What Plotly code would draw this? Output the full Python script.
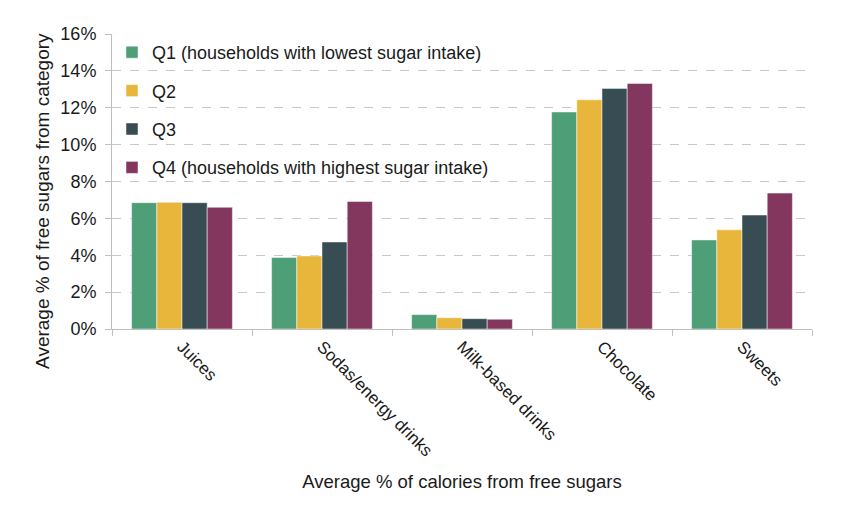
import plotly.graph_objects as go

categories = ["Juices", "Sodas/energy drinks", "Milk-based drinks", "Chocolate", "Sweets"]
series_names = [
    "Q1 (households with lowest sugar intake)",
    "Q2",
    "Q3",
    "Q4 (households with highest sugar intake)",
]
q1 = [6.85, 3.88, 0.78, 11.77, 4.83]
q2 = [6.87, 3.96, 0.61, 12.43, 5.38]
q3 = [6.85, 4.72, 0.56, 13.05, 6.18]
q4 = [6.60, 6.92, 0.53, 13.32, 7.37]
series_values = [q1, q2, q3, q4]
colors = ["#4E9E77", "#E8B63A", "#374C53", "#84375E"]
y_ticks = [0, 2, 4, 6, 8, 10, 12, 14, 16]
y_tick_labels = ["0%", "2%", "4%", "6%", "8%", "10%", "12%", "14%", "16%"]

fig = go.Figure()
for i, (name, vals, col) in enumerate(zip(series_names, series_values, colors)):
    fig.add_trace(go.Bar(
        x=categories, y=vals, name=name,
        marker=dict(color=col, line=dict(color="rgba(255,255,255,0.6)", width=0.8)),
        legendgroup=f"g{i}",
    ))

font_family = "Liberation Sans, Arial, sans-serif"
fig.update_layout(
    width=848, height=515,
    margin=dict(l=112, r=36, t=34, b=186),
    paper_bgcolor="white", plot_bgcolor="white",
    barmode="group", bargap=0.28, bargroupgap=0,
    font=dict(family=font_family, size=18, color="#1a1a1a"),
    legend=dict(
        x=0.0, y=1.0, xanchor="left", yanchor="top",
        bgcolor="rgba(0,0,0,0)", tracegroupgap=12,
        font=dict(size=18), itemwidth=30,
    ),
    xaxis=dict(
        showline=True, linecolor="#BFBFBF", linewidth=1,
        ticks="outside", tickson="boundaries", ticklen=6, tickcolor="#BFBFBF",
        tickangle=45, tickfont=dict(size=17),
        title=dict(text="Average % of calories from free sugars", font=dict(size=18.5), standoff=15),
        showgrid=False,
    ),
    yaxis=dict(
        range=[0, 16], tickvals=y_ticks, ticktext=y_tick_labels,
        showline=True, linecolor="#BFBFBF", linewidth=1,
        ticks="outside", ticklen=6, tickcolor="#BFBFBF",
        tickfont=dict(size=18), ticklabelstandoff=5,
        showgrid=True, gridcolor="#C8C8C8", griddash="dash", gridwidth=1,
        zeroline=False,
    ),
    annotations=[dict(
        text="Average % of free sugars from category",
        xref="paper", yref="paper", x=-0.0986, y=0.434,
        xanchor="center", yanchor="middle", textangle=-90,
        showarrow=False, font=dict(size=19),
    )],
)

fig.write_html("out.html")
